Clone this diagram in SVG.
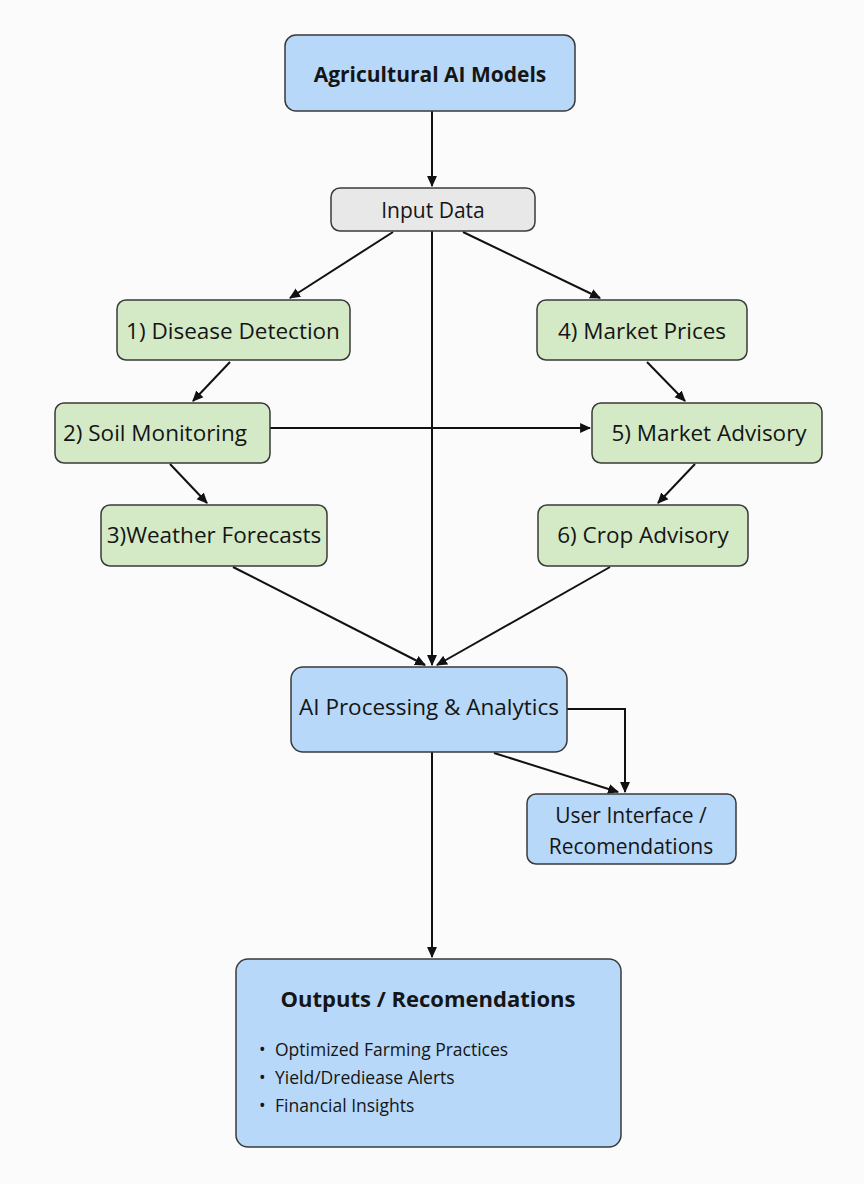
<svg xmlns="http://www.w3.org/2000/svg" width="864" height="1184" viewBox="0 0 864 1184">
<defs>
<marker id="ah" viewBox="0 0 10 10" refX="9" refY="5" markerWidth="11" markerHeight="11" markerUnits="userSpaceOnUse" orient="auto">
<path d="M0,0.5 L10,5 L0,9.5 Z" fill="#111"/>
</marker>
</defs>
<style>
.blue{fill:#b7d8f8;stroke:#3a3a3a;stroke-width:1.5}
.green{fill:#d4eac6;stroke:#3a3a3a;stroke-width:1.5}
.gray{fill:#e8e8e8;stroke:#3a3a3a;stroke-width:1.5}
text{font-family:"Open Sans","Noto Sans","Liberation Sans",sans-serif;fill:#151515}
.lbl{font-size:22.5px;text-anchor:middle}
.ttl{font-size:21px;font-weight:bold;text-anchor:middle}
.bul{font-size:17.5px}
#connectors path{fill:none;stroke:#111;stroke-width:2}
</style>
<rect width="864" height="1184" fill="#fbfbfb"/>
<g id="connectors">
<path d="M432,111 V186" marker-end="url(#ah)"/>
<path d="M393,232 L290,298" marker-end="url(#ah)"/>
<path d="M463,232 L600,298" marker-end="url(#ah)"/>
<path d="M432,231 V665" marker-end="url(#ah)"/>
<path d="M230,362 L193,401" marker-end="url(#ah)"/>
<path d="M647,362 L685,401" marker-end="url(#ah)"/>
<path d="M270,428 H590" marker-end="url(#ah)"/>
<path d="M170,464 L207,503" marker-end="url(#ah)"/>
<path d="M695,464 L658,503" marker-end="url(#ah)"/>
<path d="M233,567 L425,665" marker-end="url(#ah)"/>
<path d="M610,567 L437,665" marker-end="url(#ah)"/>
<path d="M567,709 H625 V792" marker-end="url(#ah)"/>
<path d="M494,753 L618,792" marker-end="url(#ah)"/>
<path d="M432,752 V957" marker-end="url(#ah)"/>
</g>
<g id="n-top"><rect class="blue" x="285" y="35" width="290" height="76" rx="11"/><text class="ttl" x="430" y="82">Agricultural AI Models</text></g>
<g id="n-input"><rect class="gray" x="331" y="188" width="204" height="43" rx="9"/><text class="lbl" x="433" y="218" style="font-size:21px">Input Data</text></g>
<g id="n-disease"><rect class="green" x="117" y="300" width="233" height="60" rx="9"/><text class="lbl" x="233" y="339">1) Disease Detection</text></g>
<g id="n-prices"><rect class="green" x="537" y="300" width="210" height="60" rx="9"/><text class="lbl" x="642" y="339">4) Market Prices</text></g>
<g id="n-soil"><rect class="green" x="55" y="403" width="215" height="60" rx="9"/><text class="lbl" x="155" y="441">2) Soil Monitoring</text></g>
<g id="n-madv"><rect class="green" x="592" y="403" width="230" height="60" rx="9"/><text class="lbl" x="709" y="441">5) Market Advisory</text></g>
<g id="n-weather"><rect class="green" x="101" y="505" width="226" height="61" rx="9"/><text class="lbl" x="214" y="543">3)Weather Forecasts</text></g>
<g id="n-crop"><rect class="green" x="538" y="505" width="210" height="61" rx="9"/><text class="lbl" x="643" y="543">6) Crop Advisory</text></g>
<g id="n-ai"><rect class="blue" x="291" y="667" width="276" height="85" rx="12"/><text class="lbl" x="429" y="715">AI Processing &amp; Analytics</text></g>
<g id="n-ui"><rect class="blue" x="527" y="794" width="209" height="70" rx="9"/><text class="lbl" x="631" y="823" style="font-size:21px">User Interface /</text><text class="lbl" x="631" y="854" style="font-size:21px">Recomendations</text></g>
<g id="n-out"><rect class="blue" x="236" y="959" width="385" height="188" rx="12"/><text class="ttl" x="428" y="1007" style="font-size:22px">Outputs / Recomendations</text>
<text class="bul" x="259" y="1056">•</text><text class="bul" x="275" y="1056">Optimized Farming Practices</text>
<text class="bul" x="259" y="1084">•</text><text class="bul" x="275" y="1084">Yield/Drediease Alerts</text>
<text class="bul" x="259" y="1112">•</text><text class="bul" x="275" y="1112">Financial Insights</text></g>
</svg>
